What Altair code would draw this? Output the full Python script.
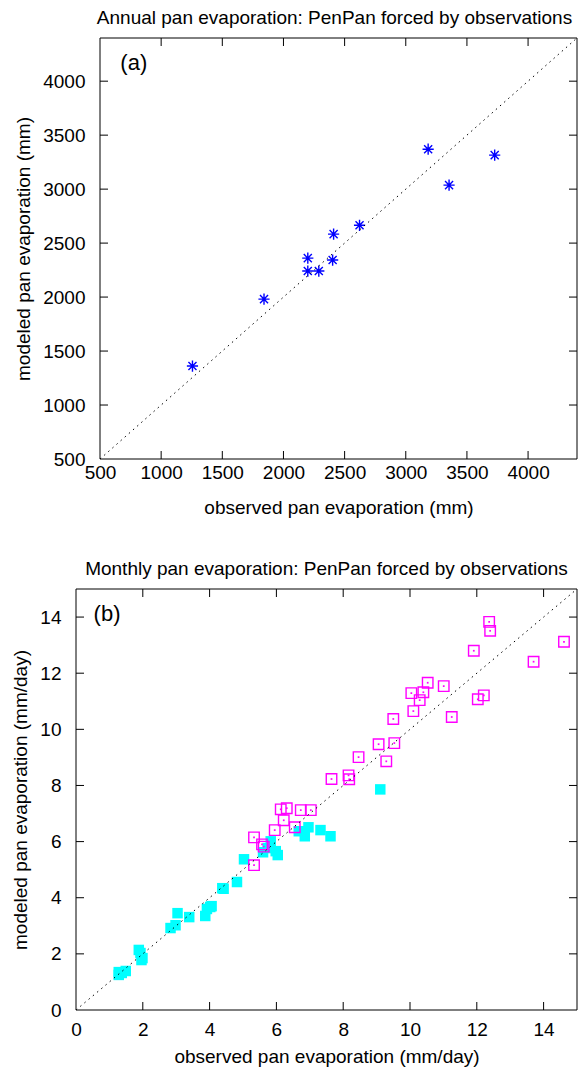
import altair as alt
import pandas as pd

FONT = "Liberation Sans"

# Panel (a): annual pan evaporation (mm)
annual_obs = [1256, 1841, 2199, 2199, 2289, 2402, 2410, 2622, 3183, 3354, 3727]
annual_mod = [1361, 1981, 2361, 2241, 2241, 2343, 2583, 2665, 3370, 3037, 3315]

# Panel (b): monthly pan evaporation (mm/day), magenta open squares
mag_obs = [5.33, 5.33, 5.57, 5.62, 5.95, 6.13, 6.22, 6.31, 6.55, 6.73, 7.03,
           7.65, 8.16, 8.18, 8.46, 9.06, 9.29, 9.50, 9.53, 10.04, 10.10, 10.29,
           10.40, 10.53, 11.01, 11.25, 11.91, 12.03, 12.21, 12.37, 12.40, 13.70, 14.61]
mag_mod = [5.16, 6.15, 5.90, 5.82, 6.41, 7.15, 6.76, 7.19, 6.51, 7.12, 7.12,
           8.23, 8.36, 8.22, 9.01, 9.47, 8.86, 10.37, 9.51, 11.29, 10.65, 11.04,
           11.32, 11.66, 11.54, 10.44, 12.80, 11.07, 11.21, 13.83, 13.51, 12.41, 13.12]

# Panel (b): cyan filled squares
cyan_obs = [1.28, 1.28, 1.37, 1.49, 1.88, 1.93, 1.99, 1.96, 2.83, 2.98, 3.04,
            3.39, 3.87, 3.92, 4.02, 4.06, 4.38, 4.42, 4.82, 5.03, 5.60, 5.74,
            5.83, 5.98, 6.04, 6.67, 6.85, 6.96, 7.32, 7.62, 9.11]
cyan_mod = [1.35, 1.25, 1.32, 1.39, 2.14, 2.03, 1.85, 1.78, 2.92, 3.02, 3.45,
            3.31, 3.35, 3.60, 3.67, 3.70, 4.34, 4.32, 4.56, 5.37, 5.62, 5.77,
            6.01, 5.66, 5.52, 6.37, 6.19, 6.51, 6.41, 6.19, 7.86]

a_labels = [500, 1000, 1500, 2000, 2500, 3000, 3500, 4000]
a_ticks = [1000, 1500, 2000, 2500, 3000, 3500, 4000]
a_lim = [500, 4400]
b_labels = [0, 2, 4, 6, 8, 10, 12, 14]
b_ticks = [2, 4, 6, 8, 10, 12, 14]
b_lim = [0, 15]

ASTERISK = "M-1,0L1,0M0,-1L0,1M-0.72,-0.72L0.72,0.72M-0.72,0.72L0.72,-0.72"
TL = 8
W = 501          # panel width (panel b plot area; panel a group width)
SHIFT = 24       # panel (a) plot area starts this far right of panel (b)'s
HA, HB = 421, 421


def inward_ticks(ticks, x0, W, H):
    tx = pd.DataFrame({"obs": ticks})
    ty = pd.DataFrame({"mod": ticks})
    rule = dict(color="black", strokeWidth=1)
    bottom = alt.Chart(tx).mark_rule(**rule).encode(
        x="obs:Q", y=alt.value(H), y2=alt.value(H - TL))
    top = alt.Chart(tx).mark_rule(**rule).encode(
        x="obs:Q", y=alt.value(0), y2=alt.value(TL))
    left = alt.Chart(ty).mark_rule(**rule).encode(
        y="mod:Q", x=alt.value(x0), x2=alt.value(x0 + TL))
    right = alt.Chart(ty).mark_rule(**rule).encode(
        y="mod:Q", x=alt.value(W), x2=alt.value(W - TL))
    return [bottom, top, left, right]


def diag(lo, hi):
    return alt.Chart(pd.DataFrame({"d": [0]})).mark_rule(
        color="black", strokeWidth=1, strokeDash=[1.5, 4]
    ).encode(x=alt.datum(lo), y=alt.datum(lo), x2=alt.datum(hi), y2=alt.datum(hi))


def frame(lo, hi):
    return alt.Chart(pd.DataFrame({"d": [0]})).mark_rect(
        fillOpacity=0, stroke="black", strokeWidth=1
    ).encode(x=alt.datum(lo), y=alt.datum(lo), x2=alt.datum(hi), y2=alt.datum(hi))


def panel_label(txt, xv, yv):
    return alt.Chart(pd.DataFrame({"t": [txt]})).mark_text(
        font=FONT, fontSize=22, color="black", align="center", baseline="middle"
    ).encode(text="t:N", x=alt.datum(xv), y=alt.datum(yv))


# ---------------- Panel (a)
sax = alt.Scale(domain=a_lim, range=[SHIFT, W], nice=False, zero=False)
say = alt.Scale(domain=a_lim, nice=False, zero=False)
df_a = pd.DataFrame({"obs": annual_obs, "mod": annual_mod})
pts_a = alt.Chart(df_a).mark_point(
    shape=ASTERISK, filled=False, size=125, strokeWidth=1.4, color="#0000ff", opacity=1
).encode(
    x=alt.X("obs:Q", scale=sax, title="observed pan evaporation (mm)",
            axis=alt.Axis(values=a_labels, format="d", labelPadding=4, titlePadding=16,
                          titleX=SHIFT + (W - SHIFT) / 2)),
    y=alt.Y("mod:Q", scale=say, title="modeled pan evaporation (mm)",
            axis=alt.Axis(values=a_labels, format="d", labelPadding=15, titlePadding=9,
                          offset=-SHIFT)),
)
chart_a = alt.layer(
    frame(*a_lim), pts_a, diag(*a_lim), panel_label("(a)", 776, 4170),
    *inward_ticks(a_ticks, SHIFT, W, HA)
).properties(
    width=W, height=HA,
    view=alt.ViewBackground(stroke="transparent"),
    title=alt.TitleParams("Annual pan evaporation: PenPan forced by observations", dx=8),
)

# ---------------- Panel (b)
sb = alt.Scale(domain=b_lim, nice=False, zero=False)
df_m = pd.DataFrame({"obs": mag_obs, "mod": mag_mod})
df_c = pd.DataFrame({"obs": cyan_obs, "mod": cyan_mod})
xb = alt.X("obs:Q", scale=sb, title="observed pan evaporation (mm/day)",
           axis=alt.Axis(values=b_labels, format="d", labelPadding=10, titlePadding=8))
yb = alt.Y("mod:Q", scale=sb, title="modeled pan evaporation (mm/day)",
           axis=alt.Axis(values=b_labels, format="d", labelPadding=15, titlePadding=9))
cyan = alt.Chart(df_c).mark_point(
    shape="square", filled=True, size=110, color="#00ffff", opacity=1
).encode(x=xb, y=yb)
mag_sq = alt.Chart(df_m).mark_point(
    shape="square", filled=False, size=110, strokeWidth=1.4, color="#ff00ff", opacity=1
).encode(x=xb, y=yb)
mag_dot = alt.Chart(df_m).mark_point(
    shape="square", filled=True, size=3, color="#ff00ff", opacity=1
).encode(x=xb, y=yb)
chart_b = alt.layer(
    frame(*b_lim), cyan, mag_sq, mag_dot, diag(*b_lim), panel_label("(b)", 0.93, 14.1),
    *inward_ticks(b_ticks, 0, W, HB)
).properties(
    width=W, height=HB,
    view=alt.ViewBackground(stroke="transparent"),
    title=alt.TitleParams("Monthly pan evaporation: PenPan forced by observations"),
)

chart = alt.vconcat(chart_a, chart_b, spacing=41).properties(
    padding={"left": 3, "top": 0, "right": 0, "bottom": 0}
).configure_view(
    stroke="transparent"
).configure_axis(
    labelFont=FONT, titleFont=FONT, labelFontSize=19, titleFontSize=19,
    titleFontWeight="normal", labelColor="black", titleColor="black",
    ticks=False, domain=False, grid=False, labelFlush=False,
).configure_title(
    font=FONT, fontSize=19, fontWeight="normal", color="black", offset=10,
)

chart.save("out.html", embed_options={"renderer": "svg", "actions": False})
